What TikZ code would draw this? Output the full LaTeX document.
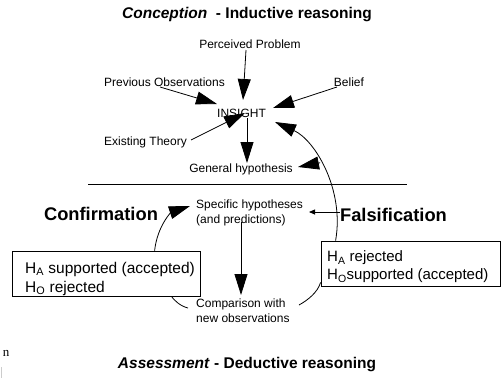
\documentclass[tikz,border=0pt]{standalone}
\usepackage{fontspec}
\setmainfont{Liberation Sans}
\newfontfamily\serifn{Liberation Serif}
\usetikzlibrary{arrows.meta,calc}

\begin{document}
\begin{tikzpicture}[x=1pt,y=-1pt,
  lbl/.style={inner sep=0pt, font=\fontsize{12}{15}\selectfont},
  ttl/.style={inner sep=0pt, font=\bfseries\fontsize{15.5}{18}\selectfont},
  big/.style={inner sep=0pt, font=\bfseries\fontsize{18.3}{21}\selectfont},
  boxed/.style={draw, line width=0.8pt, inner sep=0pt},
  boxtext/.style={inner sep=0pt, align=left},
  line/.style={line width=0.8pt},
  arr/.style={line width=0.8pt, -{Triangle[length=21pt,width=13pt]}},
  sarr/.style={line width=0.8pt, -{Triangle[length=6pt,width=5pt]}}
]
\useasboundingbox (0,0) rectangle (501,378);

% headings
\node[ttl] (top) at (247,15) {\textit{Conception}\ \ - Inductive reasoning};
\node[ttl] (bot) at (247,365) {\textit{Assessment} - Deductive reasoning};

% conception part
\node[lbl] (pp)  at (250,44)    {Perceived Problem};
\node[lbl] (po)  at (164.5,82)  {Previous Observations};
\node[lbl] (bel) at (349,82)    {Belief};
\node[lbl] (ins) at (241.5,113) {INSIGHT};
\node[lbl] (et)  at (145.5,142) {Existing Theory};
\node[lbl] (gh)  at (241,169)   {General hypothesis};

% separator
\coordinate (sepL) at (88,184);
\coordinate (sepR) at (407,184);
\draw[line] (sepL) -- (sepR);

% assessment part
\node[lbl, align=left, anchor=west] (spec) at (196,212.5) {Specific hypotheses\\(and predictions)};
\node[lbl, align=left, anchor=west] (comp) at (196,310.5) {Comparison with\\new observations};
\node[big] (conf) at (101,214)   {Confirmation};
\node[big] (fals) at (393.5,215) {Falsification};

\node[boxed, minimum width=188pt, minimum height=45pt] (lbox) at (106,273.5) {};
\node[boxed, minimum width=179pt, minimum height=45pt] (rbox) at (410.5,263.5) {};
\node[boxtext, anchor=west, font=\fontsize{15.5}{19}\selectfont] (ltext) at (25,278.5)
  {H\textsubscript{A} supported (accepted)\\H\textsubscript{O} rejected};
\node[boxtext, anchor=west, font=\fontsize{15}{18}\selectfont] (rtext) at (327,267)
  {H\textsubscript{A} rejected\\H\textsubscript{O}supported (accepted)};

% arrows into INSIGHT
\draw[arr] ($(pp.center)+(-4,6)$)    -- ($(ins.center)+(1.5,-13)$);
\draw[arr] ($(po.center)+(-4.5,5)$)  -- ($(ins.center)+(-24.5,-9)$);
\draw[arr] ($(bel.center)+(-12,5)$)  -- ($(ins.center)+(31.5,-5)$);
\draw[arr] ($(et.center)+(45.5,-2)$) -- ($(ins.center)+(3.5,0)$);
\draw[arr] ($(ins.center)+(5.5,5)$)  -- ($(gh.center)+(6,-6)$);

% falsification loop back to INSIGHT
\draw[arr] ($(rbox.north west)+(15,0)$) .. controls +(9,-51) and +(40,18) ..
  ($(ins.center)+(33.5,9)$) coordinate[pos=0.55] (cv);
\draw[arr] (cv) -- ($(gh.center)+(57,-2)$);
\draw[sarr] ($(fals.west)+(0,-3)$) -- ($(spec.west)+(113,-0.5)$);

% confirmation loop
\draw[arr] ($(lbox.north west)+(143,0)$) .. controls +(3,-26) and +(-18,6) ..
  ($(spec.west)+(-6,-6.5)$);
\draw[arr] ($(spec.west)+(45,9.5)$) -- ($(comp.west)+(45,-15.5)$);
\draw[line] ($(comp.west)+(-8,-2.5)$) .. controls +(-8,-2) and +(3,4) ..
  ($(lbox.south east)+(-29,0)$);
\draw[line] ($(comp.west)+(103,-5.5)$) .. controls +(9,-5) and +(-3,10) ..
  ($(rbox.south west)+(0,-4)$);

% fragment at the lower left edge
\node[inner sep=0pt, font=\serifn\fontsize{13}{13}\selectfont] (frag) at (6,353) {n};
\coordinate (barT) at (1,367);
\coordinate (barB) at (1,378);
\draw[gray!40, line width=0.6pt] (barT) -- (barB);
\end{tikzpicture}
\end{document}
